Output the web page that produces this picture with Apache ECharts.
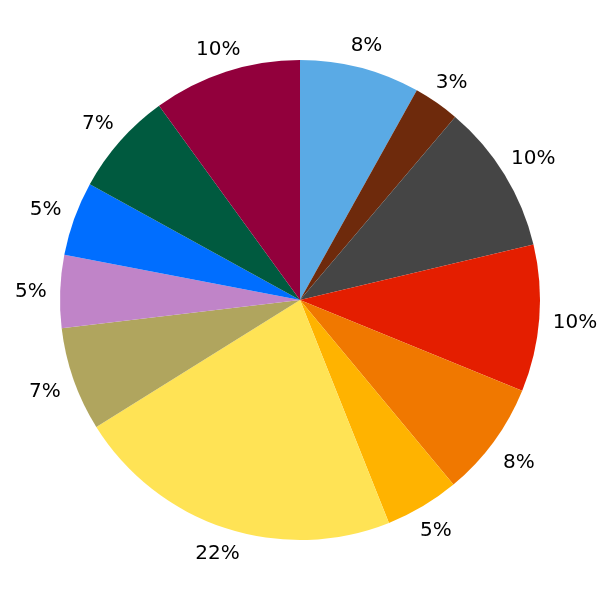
<!DOCTYPE html>
<html>
<head>
<meta charset="utf-8">
<script src="https://cdn.jsdelivr.net/npm/echarts@6/dist/echarts.min.js"></script>
<style>html,body{margin:0;padding:0;background:#fff;}#chart{width:600px;height:600px;}</style>
</head>
<body>
<div id="chart"></div>
<script>
var categories = ['A','B','C','D','E','F','G','H','I','J','K','L'];
var values = [8.1, 3.1, 10.1, 9.9, 7.8, 5.0, 22.2, 7.0, 4.9, 5.0, 7.0, 10.0];
var colors = ['#5AAAE5','#6E2A0C','#454545','#E41E00','#F07800','#FFB300','#FFE355','#B0A55E','#C084C8','#006EFF','#005A3F','#92003C'];

var chart = echarts.init(document.getElementById('chart'), null, {renderer: 'canvas'});
var gap = 13.5;
var fontSize = 20;
chart.setOption({
  animation: false,
  backgroundColor: '#ffffff',
  series: [{
    type: 'pie',
    center: [300, 300],
    radius: 240,
    startAngle: 90,
    clockwise: true,
    avoidLabelOverlap: false,
    data: categories.map(function (c, i) {
      return {name: c, value: values[i], itemStyle: {color: colors[i]}};
    }),
    itemStyle: {borderWidth: 0},
    emphasis: {disabled: true},
    label: {
      show: true,
      position: 'outside',
      formatter: function (p) { return Math.round(p.percent) + '%'; },
      fontFamily: 'DejaVu Sans',
      fontSize: fontSize,
      color: '#000000'
    },
    labelLine: {show: true, length: 10, length2: 0, lineStyle: {opacity: 0, width: 0}},
    labelLayout: function (p) {
      var pts = p.labelLinePoints;
      if (!pts) return {};
      var dx = pts[1][0] - pts[0][0], dy = pts[1][1] - pts[0][1];
      var len = Math.sqrt(dx * dx + dy * dy) || 1;
      dx /= len; dy /= len;
      var w = p.labelRect.width / 2, h = 0.53 * fontSize;
      var sx = Math.abs(dx) > 1e-6 ? w / Math.abs(dx) : Infinity;
      var sy = Math.abs(dy) > 1e-6 ? h / Math.abs(dy) : Infinity;
      var s = Math.min(sx, sy);
      return {
        x: pts[0][0] + dx * (gap + s),
        y: pts[0][1] + dy * (gap + s) + 2,
        align: 'center',
        verticalAlign: 'middle'
      };
    }
  }]
});
</script>
</body>
</html>
